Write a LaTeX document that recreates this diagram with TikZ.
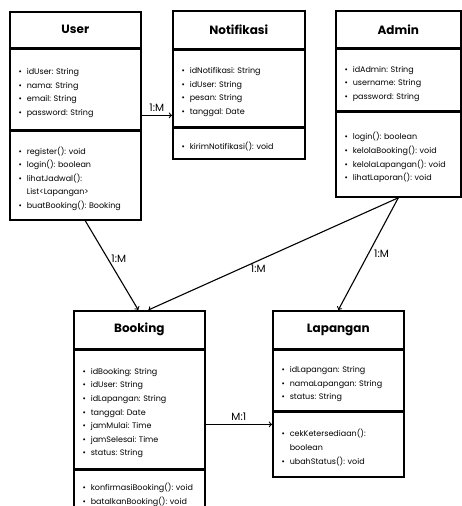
\documentclass[tikz,border=0pt]{standalone}
\usepackage{fontspec}
\setmainfont{Poppins}[WordSpace=0.7]
\frenchspacing
\usepackage{enumitem}
\setlist[itemize]{label=\textbullet, leftmargin=10pt, labelsep=5pt, nosep}
\usetikzlibrary{positioning}
\tikzset{
  classHead/.style={draw, line width=1.6pt, anchor=north west, inner sep=0pt,
    font=\bfseries\fontsize{12}{14}\selectfont},
  classBody/.style={draw, line width=1.6pt, inner xsep=7pt, inner ysep=0pt,
    font=\fontsize{8}{13.6}\selectfont},
  assoc/.style={->, line width=1.1pt},
  mult/.style={font=\fontsize{10.5}{11}\selectfont}
}

\begin{document}
\begin{tikzpicture}[x=1pt, y=-1pt, >=to]
\useasboundingbox (0,0) rectangle (462,506);

% User
\node[classHead, minimum width=131pt, minimum height=36pt] (userHead) at (9,11) {User};
\node[classBody, text width=117pt, minimum height=80pt, below=0pt of userHead] (userAttr) {%
\begin{itemize}
\item idUser: String
\item nama: String
\item email: String
\item password: String
\end{itemize}};
\node[classBody, text width=117pt, minimum height=89pt, below=0pt of userAttr] (userMeth) {%
\begin{itemize}
\item register(): void
\item login(): boolean
\item lihatJadwal():\\List<Lapangan>
\item buatBooking(): Booking
\end{itemize}};

% Notifikasi
\node[classHead, minimum width=132pt, minimum height=38pt] (notiHead) at (172,10) {Notifikasi};
\node[classBody, text width=118pt, minimum height=76pt, below=0pt of notiHead] (notiAttr) {%
\begin{itemize}
\item idNotifikasi: String
\item idUser: String
\item pesan: String
\item tanggal: Date
\end{itemize}};
\node[classBody, text width=118pt, minimum height=31pt, below=0pt of notiAttr] (notiMeth) {%
\begin{itemize}
\item kirimNotifikasi(): void
\end{itemize}};

% Admin
\node[classHead, minimum width=125pt, minimum height=37pt] (adminHead) at (335,10) {Admin};
\node[classBody, text width=111pt, minimum height=61pt, below=0pt of adminHead] (adminAttr) {%
\begin{itemize}
\item idAdmin: String
\item username: String
\item password: String
\end{itemize}};
\node[classBody, text width=111pt, minimum height=85pt, below=0pt of adminAttr] (adminMeth) {%
\begin{itemize}
\item login(): boolean
\item kelolaBooking(): void
\item kelolaLapangan(): void
\item lihatLaporan(): void
\end{itemize}};

% Booking
\node[classHead, minimum width=131pt, minimum height=38pt] (bookHead) at (73,310) {Booking};
\node[classBody, text width=117pt, minimum height=118pt, below=0pt of bookHead] (bookAttr) {%
\begin{itemize}
\item idBooking: String
\item idUser: String
\item idLapangan: String
\item tanggal: Date
\item jamMulai: Time
\item jamSelesai: Time
\item status: String
\end{itemize}};
\node[classBody, text width=117pt, minimum height=44pt, below=0pt of bookAttr] (bookMeth) {%
\begin{itemize}
\item konfirmasiBooking(): void
\item batalkanBooking(): void
\end{itemize}\par\vspace{8pt}};

% Lapangan
\node[classHead, minimum width=131pt, minimum height=38pt] (lapHead) at (272,310) {Lapangan};
\node[classBody, text width=117pt, minimum height=60pt, below=0pt of lapHead] (lapAttr) {%
\begin{itemize}
\item idLapangan: String
\item namaLapangan: String
\item status: String
\end{itemize}};
\node[classBody, text width=117pt, minimum height=65pt, below=0pt of lapAttr] (lapMeth) {%
\begin{itemize}
\item cekKetersediaan():\\boolean
\item ubahStatus(): void
\end{itemize}};

% associations
\draw[assoc] ([yshift=-26pt]userAttr.east) -- ([yshift=-26pt]userAttr.east -| notiAttr.west)
  node[mult, midway, above] {1:M};
\draw[assoc] ([xshift=10pt]userMeth.south) -- ([xshift=-1pt]bookHead.north)
  node[mult, pos=0.42, right] {1:M};
\draw[assoc] (adminMeth.south) -- ([xshift=9pt]bookHead.north)
  node[mult, pos=0.56, below] {1:M};
\draw[assoc] (adminMeth.south) -- (lapHead.north)
  node[mult, pos=0.5, right=2pt] {1:M};
\draw[assoc] ([yshift=-15pt]bookAttr.east) -- ([yshift=-15pt]bookAttr.east -| lapMeth.west)
  node[mult, midway, above] {M:1};
\end{tikzpicture}
\end{document}
